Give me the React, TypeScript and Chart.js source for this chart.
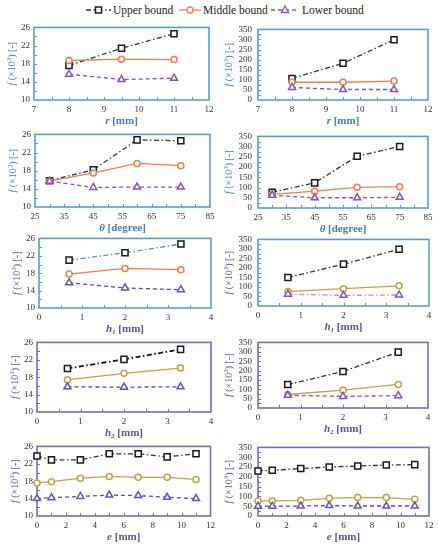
import React, { useEffect, useRef } from 'react';
import { Chart, registerables } from 'chart.js';

Chart.register(...registerables);

// ---------- DATA ----------
const seriesNames = ['Upper bound', 'Middle bound', 'Lower bound'];

const rValues = [8, 9.5, 11];
const rUpperF = [17.6, 21.4, 24.6];
const rMiddleF = [18.7, 19.0, 18.9];
const rLowerF = [15.7, 14.5, 14.8];
const rUpperFp = [107, 182, 299];
const rMiddleFp = [88, 88, 94];
const rLowerFp = [62, 52, 52];

const thetaValues = [30, 45, 60, 75];
const thetaUpperF = [15.8, 18.2, 24.8, 24.6];
const thetaMiddleF = [15.7, 17.5, 19.6, 19.1];
const thetaLowerF = [15.7, 14.3, 14.4, 14.4];
const thetaUpperFp = [77, 123, 253, 301];
const thetaMiddleFp = [67, 82, 101, 104];
const thetaLowerFp = [62, 50, 50, 52];

const h1Values = [0.7, 2, 3.3];
const h1UpperF = [21.0, 22.7, 24.7];
const h1MiddleF = [17.8, 19.1, 18.8];
const h1LowerF = [15.8, 14.6, 14.2];
const h1UpperFp = [150, 220, 298];
const h1MiddleFp = [76, 91, 106];
const h1LowerFp = [62, 56, 58];

const h2Values = [0.7, 2, 3.3];
const h2UpperF = [20.0, 22.1, 24.4];
const h2MiddleF = [17.4, 18.9, 20.1];
const h2LowerF = [15.8, 15.7, 15.8];
const h2UpperFp = [125, 195, 298];
const h2MiddleFp = [72, 95, 126];
const h2LowerFp = [68, 62, 66];

const eValues = [0, 1, 3, 5, 7, 9, 11];
const eUpperF = [23.8, 22.9, 22.9, 24.3, 24.3, 23.6, 24.3];
const eMiddleF = [17.6, 17.9, 18.7, 19.1, 18.9, 18.9, 18.4];
const eLowerF = [14.0, 14.2, 14.5, 14.8, 14.7, 14.3, 14.0];
const eUpperFp = [230, 233, 242, 250, 255, 260, 262];
const eMiddleFp = [77, 77, 80, 90, 95, 94, 85];
const eLowerFp = [50, 50, 51, 53, 51, 51, 51];

// axis ranges / tick steps
const fRange = [10, 26, 4];
const fpRange = [0, 350, 50];
const rRange = [7, 12, 1];
const thetaRange = [25, 85, 10];
const hRange = [0, 4, 1];
const eRange = [0, 12, 2];

// ---------- STYLE ----------
const FONT = "'Liberation Serif', Tinos, 'Times New Roman', Times, 'DejaVu Serif', serif";
const BLUE_FRAME = '#5b9bd5';
const BLUE_TITLE = '#3f7fbf';
const PURPLE_FRAME = '#6f6fc6';
const PURPLE_TITLE = '#5656a8';
const ORANGE = '#f07e4e';
const GOLD = '#c4a33a';
const BLACK = '#1a1a1a';

type Part = { t: string; i?: boolean; sub?: boolean; sup?: boolean };

const yTitleParts: Part[] = [{ t: 'f', i: true }, { t: ' (×10' }, { t: '3', sup: true }, { t: ') [-]' }];
const rTitle: Part[] = [{ t: 'r', i: true }, { t: ' [mm]' }];
const thetaTitle: Part[] = [{ t: 'θ', i: true }, { t: ' [degree]' }];
const h1Title: Part[] = [{ t: 'h', i: true }, { t: '1', i: true, sub: true }, { t: ' [mm]' }];
const h2Title: Part[] = [{ t: 'h', i: true }, { t: '2', i: true, sub: true }, { t: ' [mm]' }];
const eTitle: Part[] = [{ t: 'e', i: true }, { t: ' [mm]' }];

function drawRich(ctx: CanvasRenderingContext2D, parts: Part[], x: number, y: number, size: number, bold: boolean, color: string) {
  const fontFor = (p: Part) =>
    `${p.i ? 'italic ' : ''}${bold ? 'bold ' : ''}${p.sub || p.sup ? Math.round(size * 0.65) : size}px ${FONT}`;
  let total = 0;
  const widths = parts.map((p) => {
    ctx.font = fontFor(p);
    const w = ctx.measureText(p.t).width;
    total += w;
    return w;
  });
  let cx = x - total / 2;
  ctx.fillStyle = color;
  ctx.textBaseline = 'middle';
  ctx.textAlign = 'left';
  parts.forEach((p, k) => {
    ctx.font = fontFor(p);
    const dy = p.sub ? size * 0.28 : p.sup ? -size * 0.32 : 0;
    ctx.fillText(p.t, cx, y + dy);
    cx += widths[k];
  });
}

const decorPlugin = {
  id: 'decor',
  beforeDatasetsDraw(chart: any, _args: any, opts: any) {
    const { ctx, chartArea: a, scales } = chart;
    ctx.save();
    ctx.strokeStyle = opts.frame;
    ctx.lineWidth = 1.6;
    ctx.strokeRect(a.left, a.top, a.right - a.left, a.bottom - a.top);
    ctx.lineWidth = 1;
    const xs = scales.x;
    const ys = scales.y;
    const xStep = opts.xStep / 2;
    for (let v = xs.min + xStep; v < xs.max - 1e-9; v += xStep) {
      const px = Math.round(xs.getPixelForValue(v)) + 0.5;
      ctx.beginPath();
      ctx.moveTo(px, a.bottom);
      ctx.lineTo(px, a.bottom - 3);
      ctx.stroke();
    }
    const yStep = opts.yStep / 2;
    for (let v = ys.min + yStep; v < ys.max - 1e-9; v += yStep) {
      const py = Math.round(ys.getPixelForValue(v)) + 0.5;
      ctx.beginPath();
      ctx.moveTo(a.left, py);
      ctx.lineTo(a.left + 3, py);
      ctx.stroke();
    }
    drawRich(ctx, opts.xTitle, (a.left + a.right) / 2, a.bottom + 21, 11, true, opts.titleColor);
    ctx.translate(a.left - opts.yTitleOffset, (a.top + a.bottom) / 2);
    ctx.rotate(-Math.PI / 2);
    drawRich(ctx, yTitleParts, 0, 0, 10, false, opts.titleColor);
    ctx.restore();
  },
};

type SeriesStyle = { line: string; point: string; dash: number[]; width?: number };

type PanelCfg = {
  cl: number; cw: number;
  pt: number; pb: number; pl: number; pr: number;
  x: number[]; upper: number[]; middle: number[]; lower: number[];
  xr: number[]; yr: number[];
  xTitle: Part[];
  frame: string; titleColor: string;
  up: SeriesStyle; mid: SeriesStyle; low: SeriesStyle;
  yTitleOffset: number;
};

const DASHDOT = [5, 2.5, 1.5, 2.5];
const DASH = [4, 3];

function Panel({ cfg }: { cfg: PanelCfg }) {
  const ref = useRef<HTMLCanvasElement>(null);
  const ct = cfg.pt - 7;
  const ch = cfg.pb + 28 - ct;
  useEffect(() => {
    const mk = (vals: number[]) => cfg.x.map((x, k) => ({ x, y: vals[k] }));
    const ds = (label: string, vals: number[], s: SeriesStyle, pointStyle: string, radius: number) => ({
      label,
      data: mk(vals),
      borderColor: s.line,
      borderWidth: s.width ?? 1.3,
      borderDash: s.dash,
      pointStyle,
      pointRadius: radius,
      pointBorderColor: s.point,
      pointBackgroundColor: '#ffffff',
      pointBorderWidth: 1.5,
      tension: 0,
      clip: false,
    });
    const tickFont = { family: FONT, size: 9 };
    const chart = new Chart(ref.current as HTMLCanvasElement, {
      type: 'line',
      data: {
        datasets: [
          ds(seriesNames[2], cfg.lower, cfg.low, 'triangle', 4),
          ds(seriesNames[1], cfg.middle, cfg.mid, 'circle', 3),
          ds(seriesNames[0], cfg.upper, cfg.up, 'rect', 4.3),
        ] as any,
      },
      options: {
        responsive: false,
        animation: false,
        layout: { padding: { left: 0, top: cfg.pt - ct, right: cfg.cl + cfg.cw - cfg.pr, bottom: 0 } },
        plugins: {
          legend: { display: false },
          tooltip: { enabled: false },
          decor: {
            frame: cfg.frame,
            titleColor: cfg.titleColor,
            xTitle: cfg.xTitle,
            xStep: cfg.xr[2],
            yStep: cfg.yr[2],
            yTitleOffset: cfg.yTitleOffset,
          },
        } as any,
        scales: {
          x: {
            type: 'linear',
            min: cfg.xr[0],
            max: cfg.xr[1],
            ticks: { stepSize: cfg.xr[2], color: '#333', font: tickFont, padding: 4, maxRotation: 0, autoSkip: false },
            grid: { display: false, drawTicks: false },
            border: { display: false },
            afterFit: (s: any) => { s.height = ct + ch - cfg.pb; },
          },
          y: {
            type: 'linear',
            min: cfg.yr[0],
            max: cfg.yr[1],
            ticks: { stepSize: cfg.yr[2], color: '#333', font: tickFont, padding: cfg.cl === 0 ? 4 : 6, autoSkip: false },
            grid: { display: false, drawTicks: false },
            border: { display: false },
            afterFit: (s: any) => { s.width = cfg.pl - cfg.cl; },
          },
        } as any,
      },
      plugins: [decorPlugin as any],
    });
    return () => chart.destroy();
  }, []);
  return (
    <canvas
      ref={ref}
      width={cfg.cw}
      height={ch}
      style={{ position: 'absolute', left: cfg.cl, top: ct, width: cfg.cw, height: ch }}
    />
  );
}

const upBlack: SeriesStyle = { line: '#333333', point: BLACK, dash: DASHDOT };
const midOrange: SeriesStyle = { line: ORANGE, point: ORANGE, dash: [] };
const midGold: SeriesStyle = { line: GOLD, point: GOLD, dash: [] };
const lowPurple: SeriesStyle = { line: '#8a4fc4', point: '#8a4fc4', dash: DASH };
const lowBluePurple: SeriesStyle = { line: '#5548c0', point: '#6a4fc0', dash: DASH };

const L = { cl: 0, cw: 219, yTitleOffset: 22 };
const R = { cl: 219, cw: 219, yTitleOffset: 29 };

const panels: PanelCfg[] = [
  { ...L, pt: 25, pb: 100, pl: 34, pr: 209, x: rValues, upper: rUpperF, middle: rMiddleF, lower: rLowerF, xr: rRange, yr: fRange, xTitle: rTitle, frame: BLUE_FRAME, titleColor: BLUE_TITLE, up: upBlack, mid: midOrange, low: lowPurple },
  { ...R, pt: 25, pb: 100, pl: 258, pr: 428, x: rValues, upper: rUpperFp, middle: rMiddleFp, lower: rLowerFp, xr: rRange, yr: fpRange, xTitle: rTitle, frame: BLUE_FRAME, titleColor: BLUE_TITLE, up: upBlack, mid: midOrange, low: { ...lowPurple, line: '#6a5ac4' } },
  { ...L, pt: 132, pb: 207, pl: 35, pr: 210, x: thetaValues, upper: thetaUpperF, middle: thetaMiddleF, lower: thetaLowerF, xr: thetaRange, yr: fRange, xTitle: thetaTitle, frame: BLUE_FRAME, titleColor: BLUE_TITLE, up: upBlack, mid: midOrange, low: lowPurple },
  { ...R, pt: 132, pb: 208, pl: 258, pr: 428, x: thetaValues, upper: thetaUpperFp, middle: thetaMiddleFp, lower: thetaLowerFp, xr: thetaRange, yr: fpRange, xTitle: thetaTitle, frame: BLUE_FRAME, titleColor: BLUE_TITLE, up: upBlack, mid: midOrange, low: lowPurple },
  { ...L, pt: 236, pb: 308, pl: 39, pr: 211, x: h1Values, upper: h1UpperF, middle: h1MiddleF, lower: h1LowerF, xr: hRange, yr: fRange, xTitle: h1Title, frame: BLUE_FRAME, titleColor: PURPLE_TITLE, up: { line: '#4f93b8', point: BLACK, dash: DASHDOT }, mid: midOrange, low: lowBluePurple },
  { ...R, pt: 235, pb: 306, pl: 258, pr: 429, x: h1Values, upper: h1UpperFp, middle: h1MiddleFp, lower: h1LowerFp, xr: hRange, yr: fpRange, xTitle: h1Title, frame: BLUE_FRAME, titleColor: PURPLE_TITLE, up: upBlack, mid: midGold, low: { line: '#e07ac8', point: '#7a55c4', dash: DASHDOT } },
  { ...L, pt: 340, pb: 412, pl: 37, pr: 211, x: h2Values, upper: h2UpperF, middle: h2MiddleF, lower: h2LowerF, xr: hRange, yr: fRange, xTitle: h2Title, frame: PURPLE_FRAME, titleColor: PURPLE_TITLE, up: { ...upBlack, line: '#111', width: 1.8 }, mid: midGold, low: lowBluePurple },
  { ...R, pt: 338, pb: 408, pl: 258, pr: 428, x: h2Values, upper: h2UpperFp, middle: h2MiddleFp, lower: h2LowerFp, xr: hRange, yr: fpRange, xTitle: h2Title, frame: PURPLE_FRAME, titleColor: PURPLE_TITLE, up: upBlack, mid: midGold, low: lowPurple },
  { ...L, pt: 444, pb: 516, pl: 37, pr: 211, x: eValues, upper: eUpperF, middle: eMiddleF, lower: eLowerF, xr: eRange, yr: fRange, xTitle: eTitle, frame: PURPLE_FRAME, titleColor: PURPLE_TITLE, up: upBlack, mid: midGold, low: lowBluePurple },
  { ...R, pt: 443, pb: 516, pl: 258, pr: 429, x: eValues, upper: eUpperFp, middle: eMiddleFp, lower: eLowerFp, xr: eRange, yr: fpRange, xTitle: eTitle, frame: PURPLE_FRAME, titleColor: PURPLE_TITLE, up: upBlack, mid: midGold, low: lowBluePurple },
];

function Legend() {
  const items = [
    { label: seriesNames[0], x: 86, w: 25, tx: 113, color: '#333', mark: BLACK, dash: '5,2.5,1.5,2.5', shape: 'square' },
    { label: seriesNames[1], x: 179, w: 22, tx: 203, color: ORANGE, mark: ORANGE, dash: '', shape: 'circle' },
    { label: seriesNames[2], x: 271, w: 28, tx: 302, color: '#8a4fc4', mark: '#8a4fc4', dash: '4,3', shape: 'triangle' },
  ];
  return (
    <>
      {items.map((it) => {
        const c = it.w / 2;
        return (
          <React.Fragment key={it.label}>
            <svg width={it.w} height={12} style={{ position: 'absolute', left: it.x, top: 4 }}>
              <line x1={0} y1={6} x2={it.w} y2={6} stroke={it.color} strokeWidth={1.3} strokeDasharray={it.dash || undefined} />
              {it.shape === 'square' && <rect x={c - 3} y={3} width={6} height={6} fill="#fff" stroke={it.mark} strokeWidth={1.5} />}
              {it.shape === 'circle' && <circle cx={c} cy={6} r={3} fill="#fff" stroke={it.mark} strokeWidth={1.3} />}
              {it.shape === 'triangle' && <polygon points={`${c},2 ${c + 3.6},8.5 ${c - 3.6},8.5`} fill="#fff" stroke={it.mark} strokeWidth={1.3} />}
            </svg>
            <span
              style={{ position: 'absolute', left: it.tx, top: 2, fontFamily: FONT, fontSize: 11.5, lineHeight: '16px', color: '#222', whiteSpace: 'nowrap' }}
            >
              {it.label}
            </span>
          </React.Fragment>
        );
      })}
    </>
  );
}

export default function App() {
  return (
    <div style={{ position: 'fixed', left: 0, top: 0, width: 438, height: 550, background: '#fff', overflow: 'hidden', fontFamily: FONT }}>
      <Legend />
      {panels.map((p, k) => (
        <Panel key={k} cfg={p} />
      ))}
    </div>
  );
}
